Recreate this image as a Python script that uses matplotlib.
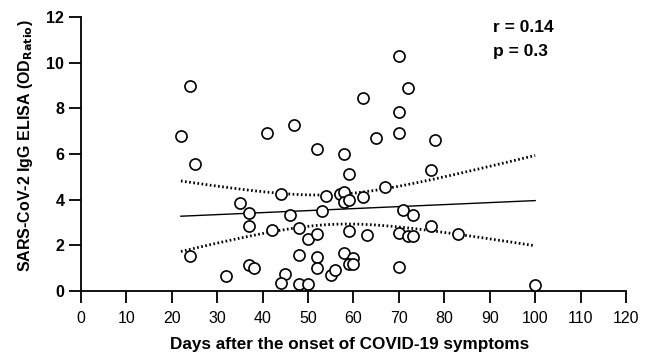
import numpy as np
import matplotlib
matplotlib.use("Agg")
import matplotlib.pyplot as plt

plt.rcParams["font.family"] = ["Liberation Sans", "DejaVu Sans"]

# days after symptom onset
days = [24, 22, 25, 35, 37, 37, 24, 37, 38, 32,
        41, 47, 52, 44, 42, 46, 48, 50, 52, 53,
        54, 48, 52, 52, 45, 44, 48, 50, 55, 56,
        58, 59, 57, 58, 58, 59, 62, 59, 63, 58,
        60, 59, 60, 62, 65, 67, 70, 72, 70, 70,
        77, 78, 71, 73, 70, 72, 73, 77, 70, 83,
        100]
# IgG ELISA OD ratio
od_ratio = [9.0, 6.8, 5.55, 3.85, 3.4, 2.86, 1.52, 1.12, 1.02, 0.64,
            6.92, 7.25, 6.2, 4.26, 2.69, 3.31, 2.76, 2.29, 2.5, 3.49,
            4.15, 1.6, 1.49, 1.0, 0.76, 0.37, 0.3, 0.32, 0.69, 0.93,
            6.0, 5.14, 4.26, 4.33, 3.9, 3.97, 4.11, 2.63, 2.44, 1.66,
            1.44, 1.2, 1.2, 8.45, 6.71, 4.55, 10.3, 8.89, 7.86, 6.93,
            5.28, 6.6, 3.56, 3.34, 2.55, 2.4, 2.4, 2.83, 1.05, 2.5,
            0.25]
x_ticks = list(range(0, 121, 10))
y_ticks = list(range(0, 13, 2))
r_text = "r = 0.14"
p_text = "p = 0.3"

x = np.array(days, dtype=float)
y = np.array(od_ratio, dtype=float)
n = len(x)
slope, intercept = np.polyfit(x, y, 1)
xs = np.linspace(x.min(), x.max(), 200)
fit = intercept + slope * xs
resid = y - (intercept + slope * x)
s = np.sqrt(np.sum(resid ** 2) / (n - 2))
t_crit = 2.0  # ~t(0.975, n-2)
se = s * np.sqrt(1 / n + (xs - x.mean()) ** 2 / np.sum((x - x.mean()) ** 2))

fig = plt.figure(figsize=(6.51, 3.58), dpi=100)
ax = fig.add_axes([0.1244, 0.187, 0.8372, 0.7655])

ax.plot(xs, fit, color="black", lw=1.0)
ax.plot(xs, fit + t_crit * se, color="black", lw=2.0, ls=(0, (0.6, 0.9)))
ax.plot(xs, fit - t_crit * se, color="black", lw=2.0, ls=(0, (0.6, 0.9)))
ax.plot(x, y, "o", ms=8, mfc="white", mec="black", mew=1.2,
        ls="none", clip_on=False, zorder=3)

ax.set_xlim(0, 120)
ax.set_ylim(0, 12)
ax.set_xticks(x_ticks)
ax.set_yticks(y_ticks)
for side in ("top", "right"):
    ax.spines[side].set_visible(False)
for side in ("left", "bottom"):
    ax.spines[side].set_linewidth(1.3)
ax.tick_params(axis="both", direction="out", length=8.5, width=1.3, labelsize=11.5)
ax.tick_params(axis="x", pad=6)
ax.tick_params(axis="y", pad=3.5)
for lab in ax.get_yticklabels():
    lab.set_fontweight("bold")

ax.set_xlabel("Days after the onset of COVID-19 symptoms", fontsize=12.3,
              fontweight="bold")
ax.xaxis.set_label_coords(0.492, -0.168)
ax.set_ylabel(r"SARS-CoV-2 IgG ELISA (OD$_{\mathbf{Ratio}}$)", fontsize=11.5,
              fontweight="bold")
ax.yaxis.set_label_coords(-0.084, 0.53)

ax.text(90.7, 11.54, r_text, fontsize=12.5, fontweight="bold",
        ha="left", va="center")
ax.text(90.7, 10.49, p_text, fontsize=12.5, fontweight="bold",
        ha="left", va="center")

fig.savefig("out.png", dpi=100, facecolor="white")
